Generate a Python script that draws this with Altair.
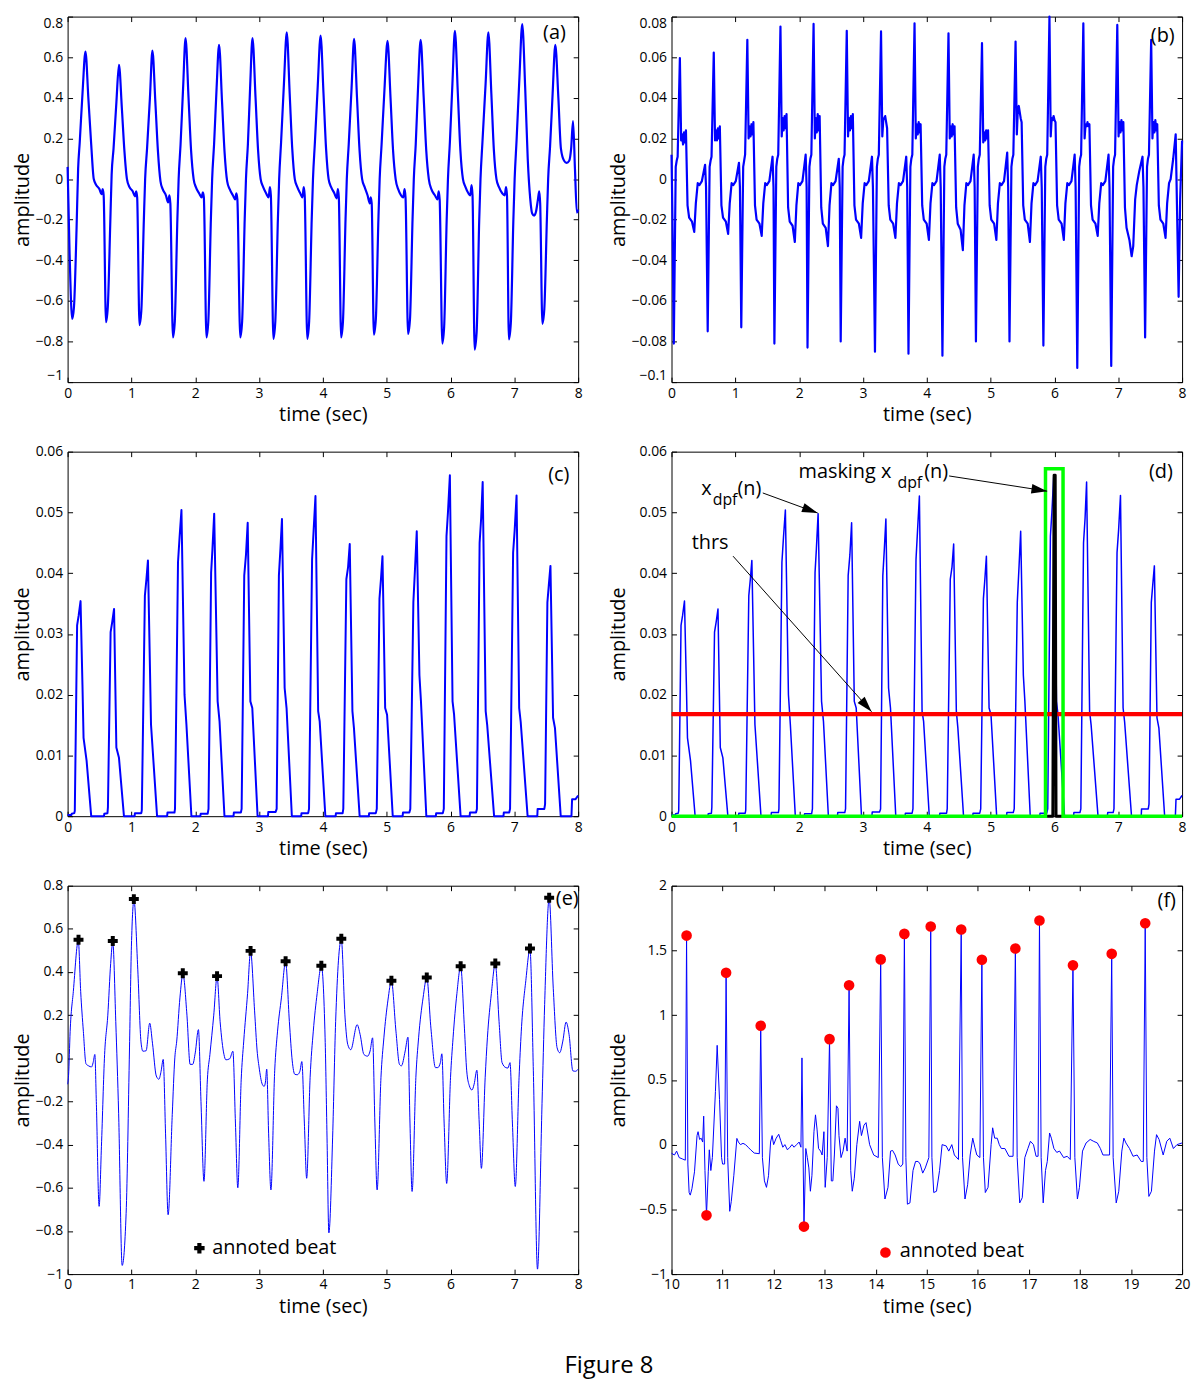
import math
import altair as alt
import pandas as pd

FONT = "Open Sans"
BLUE = "#0000ff"

# ---------------- data ----------------
A_PTS = [
    (0.0, 0.06), (0.03, -0.35), (0.072, -0.689), (0.10, -0.63), (0.14, -0.25), (0.165, 0.05), (0.19, 0.18), (0.235, 0.43), (0.28, 0.628), (0.325, 0.40), (0.37, 0.17), (0.41, 0.0), (0.45, -0.03), (0.50, -0.05), (0.53, -0.075), (0.55, -0.05), (0.565, -0.08),
    (0.602, -0.705), (0.63, -0.63), (0.67, -0.2), (0.69, 0.02), (0.72, 0.15), (0.765, 0.38), (0.805, 0.563), (0.85, 0.35), (0.89, 0.14), (0.93, 0.0), (0.97, -0.04), (1.02, -0.06), (1.055, -0.085), (1.075, -0.06), (1.09, -0.09),
    (1.127, -0.72), (1.155, -0.65), (1.195, -0.2), (1.215, 0.0), (1.245, 0.15), (1.29, 0.4), (1.329, 0.632), (1.375, 0.38), (1.415, 0.14), (1.455, -0.01), (1.49, -0.05), (1.54, -0.08), (1.575, -0.115), (1.595, -0.08), (1.61, -0.12),
    (1.651, -0.78), (1.68, -0.7), (1.72, -0.2), (1.74, 0.0), (1.77, 0.17), (1.81, 0.45), (1.848, 0.694), (1.895, 0.4), (1.935, 0.14), (1.975, 0.0), (2.01, -0.04), (2.06, -0.07), (2.10, -0.09), (2.12, -0.065), (2.135, -0.09),
    (2.176, -0.78), (2.205, -0.7), (2.245, -0.2), (2.265, 0.0), (2.295, 0.17), (2.335, 0.45), (2.373, 0.661), (2.42, 0.38), (2.46, 0.13), (2.50, -0.01), (2.54, -0.05), (2.59, -0.08), (2.625, -0.1), (2.645, -0.07), (2.66, -0.1),
    (2.706, -0.78), (2.735, -0.7), (2.775, -0.2), (2.795, 0.0), (2.825, 0.17), (2.86, 0.45), (2.897, 0.694), (2.945, 0.4), (2.985, 0.14), (3.025, 0.0), (3.065, -0.04), (3.11, -0.07), (3.15, -0.09), (3.17, -0.04), (3.185, -0.08),
    (3.225, -0.787), (3.255, -0.7), (3.295, -0.2), (3.315, 0.0), (3.345, 0.18), (3.39, 0.47), (3.434, 0.722), (3.48, 0.42), (3.52, 0.15), (3.56, 0.0), (3.60, -0.04), (3.645, -0.07), (3.68, -0.09), (3.70, -0.04), (3.715, -0.08),
    (3.756, -0.787), (3.785, -0.7), (3.825, -0.2), (3.845, 0.0), (3.875, 0.18), (3.92, 0.46), (3.964, 0.707), (4.01, 0.42), (4.05, 0.15), (4.09, 0.0), (4.13, -0.04), (4.18, -0.07), (4.215, -0.095), (4.235, -0.05), (4.25, -0.09),
    (4.286, -0.78), (4.315, -0.7), (4.355, -0.2), (4.375, 0.0), (4.405, 0.17), (4.45, 0.45), (4.489, 0.69), (4.535, 0.4), (4.575, 0.14), (4.615, 0.0), (4.655, -0.04), (4.70, -0.08), (4.735, -0.12), (4.75, -0.09), (4.765, -0.12),
    (4.799, -0.766), (4.83, -0.69), (4.87, -0.2), (4.89, 0.0), (4.92, 0.17), (4.965, 0.44), (5.013, 0.68), (5.06, 0.4), (5.10, 0.14), (5.14, 0.0), (5.18, -0.05), (5.225, -0.08), (5.26, -0.09), (5.28, -0.05), (5.295, -0.09),
    (5.335, -0.763), (5.365, -0.69), (5.405, -0.2), (5.425, 0.0), (5.455, 0.17), (5.49, 0.44), (5.532, 0.686), (5.58, 0.4), (5.62, 0.14), (5.66, 0.0), (5.70, -0.05), (5.755, -0.08), (5.795, -0.1), (5.815, -0.06), (5.83, -0.1),
    (5.872, -0.81), (5.90, -0.73), (5.94, -0.2), (5.96, 0.0), (5.99, 0.18), (6.03, 0.47), (6.069, 0.73), (6.115, 0.42), (6.155, 0.14), (6.195, 0.0), (6.235, -0.04), (6.28, -0.07), (6.31, -0.08), (6.33, -0.03), (6.345, -0.08),
    (6.378, -0.84), (6.41, -0.75), (6.45, -0.2), (6.47, 0.0), (6.50, 0.18), (6.55, 0.47), (6.593, 0.723), (6.64, 0.42), (6.68, 0.14), (6.72, 0.0), (6.76, -0.04), (6.81, -0.07), (6.85, -0.08), (6.87, -0.04), (6.885, -0.08),
    (6.915, -0.79), (6.945, -0.71), (6.985, -0.2), (7.005, 0.0), (7.035, 0.19), (7.08, 0.5), (7.124, 0.763), (7.17, 0.45), (7.21, 0.1), (7.25, -0.1), (7.28, -0.17), (7.31, -0.18), (7.34, -0.16), (7.37, -0.1), (7.39, -0.06), (7.405, -0.12),
    (7.44, -0.713), (7.47, -0.64), (7.51, -0.2), (7.53, 0.0), (7.56, 0.16), (7.60, 0.42), (7.642, 0.661), (7.69, 0.4), (7.73, 0.15), (7.78, 0.09), (7.82, 0.08), (7.86, 0.09), (7.89, 0.15), (7.92, 0.285), (7.95, 0.05), (7.98, -0.165), (8.0, -0.15),
]

B_PTS = [
    (0.0, 0.012), (0.015, -0.02),
    (0.036, -0.081), (0.066, 0.006), (0.081, 0.009), (0.096, 0.011), (0.131, 0.0596), (0.151, 0.019), (0.166, 0.022), (0.181, 0.017), (0.196, 0.023), (0.211, 0.018), (0.226, 0.024), (0.251, -0.013), (0.276, -0.019), (0.321, -0.021), (0.356, -0.026), (0.381, -0.012), (0.411, -0.002), (0.436, -0.003), (0.476, -0.001), (0.526, 0.007), (0.541, -0.004),
    (0.567, -0.075), (0.597, 0.006), (0.612, 0.009), (0.627, 0.011), (0.662, 0.0623), (0.682, 0.019), (0.697, 0.024), (0.712, 0.019), (0.727, 0.025), (0.742, 0.020), (0.757, 0.026), (0.782, -0.013), (0.807, -0.019), (0.852, -0.021), (0.887, -0.027), (0.912, -0.012), (0.942, -0.002), (0.967, -0.003), (1.007, -0.001), (1.057, 0.008), (1.072, -0.004),
    (1.093, -0.073), (1.123, 0.006), (1.138, 0.009), (1.153, 0.012), (1.188, 0.0686), (1.208, 0.020), (1.223, 0.026), (1.238, 0.021), (1.253, 0.027), (1.268, 0.022), (1.283, 0.028), (1.308, -0.013), (1.333, -0.020), (1.378, -0.022), (1.413, -0.028), (1.438, -0.012), (1.468, -0.002), (1.493, -0.003), (1.533, -0.001), (1.583, 0.011), (1.598, -0.004),
    (1.612, -0.081), (1.642, 0.006), (1.657, 0.010), (1.672, 0.012), (1.707, 0.0751), (1.727, 0.021), (1.742, 0.030), (1.757, 0.024), (1.772, 0.031), (1.787, 0.025), (1.802, 0.032), (1.827, -0.014), (1.852, -0.021), (1.897, -0.023), (1.932, -0.031), (1.957, -0.013), (1.987, -0.002), (2.012, -0.003), (2.052, -0.001), (2.102, 0.012), (2.117, -0.004),
    (2.131, -0.083), (2.161, 0.006), (2.176, 0.010), (2.191, 0.012), (2.226, 0.0764), (2.246, 0.020), (2.261, 0.030), (2.276, 0.023), (2.291, 0.032), (2.306, 0.024), (2.321, 0.031), (2.346, -0.014), (2.371, -0.022), (2.416, -0.024), (2.451, -0.033), (2.476, -0.013), (2.506, -0.002), (2.531, -0.003), (2.571, -0.001), (2.621, 0.010), (2.636, -0.004),
    (2.651, -0.080), (2.681, 0.006), (2.696, 0.010), (2.711, 0.012), (2.746, 0.073), (2.766, 0.021), (2.781, 0.030), (2.796, 0.024), (2.811, 0.031), (2.826, 0.025), (2.841, 0.032), (2.866, -0.013), (2.891, -0.020), (2.936, -0.022), (2.971, -0.029), (2.996, -0.012), (3.026, -0.002), (3.051, -0.003), (3.091, -0.001), (3.141, 0.011), (3.156, -0.004),
    (3.188, -0.085), (3.218, 0.006), (3.233, 0.010), (3.248, 0.012), (3.283, 0.0727), (3.303, 0.021), (3.318, 0.029), (3.333, 0.030), (3.348, 0.031), (3.363, 0.028), (3.378, 0.025), (3.403, -0.013), (3.428, -0.020), (3.473, -0.022), (3.508, -0.029), (3.533, -0.012), (3.563, -0.002), (3.588, -0.003), (3.628, -0.001), (3.678, 0.011), (3.693, -0.004),
    (3.713, -0.086), (3.743, 0.006), (3.758, 0.010), (3.773, 0.012), (3.808, 0.0767), (3.828, 0.020), (3.843, 0.027), (3.858, 0.022), (3.873, 0.028), (3.888, 0.023), (3.903, 0.027), (3.928, -0.013), (3.953, -0.020), (3.998, -0.022), (4.033, -0.030), (4.058, -0.012), (4.088, -0.002), (4.113, -0.003), (4.153, -0.001), (4.203, 0.012), (4.218, -0.004),
    (4.245, -0.087), (4.275, 0.006), (4.29, 0.010), (4.305, 0.012), (4.34, 0.0718), (4.36, 0.020), (4.375, 0.026), (4.39, 0.021), (4.405, 0.027), (4.42, 0.022), (4.435, 0.026), (4.46, -0.014), (4.485, -0.022), (4.53, -0.025), (4.565, -0.035), (4.59, -0.013), (4.62, -0.002), (4.645, -0.003), (4.685, -0.001), (4.735, 0.012), (4.75, -0.004),
    (4.77, -0.080), (4.80, 0.006), (4.815, 0.010), (4.83, 0.012), (4.865, 0.0669), (4.885, 0.018), (4.90, 0.023), (4.915, 0.019), (4.93, 0.024), (4.945, 0.020), (4.96, 0.024), (4.985, -0.013), (5.01, -0.020), (5.055, -0.022), (5.09, -0.030), (5.115, -0.012), (5.145, -0.002), (5.17, -0.003), (5.21, -0.001), (5.26, 0.013), (5.275, -0.004),
    (5.296, -0.080), (5.326, 0.006), (5.341, 0.010), (5.356, 0.012), (5.391, 0.0677), (5.411, 0.022), (5.426, 0.034), (5.441, 0.036), (5.456, 0.033), (5.471, 0.030), (5.486, 0.028), (5.511, -0.013), (5.536, -0.020), (5.581, -0.022), (5.616, -0.031), (5.641, -0.012), (5.671, -0.002), (5.696, -0.003), (5.736, -0.001), (5.786, 0.011), (5.801, -0.004),
    (5.827, -0.082), (5.857, 0.006), (5.872, 0.010), (5.887, 0.012), (5.922, 0.080), (5.942, 0.021), (5.957, 0.030), (5.972, 0.029), (5.987, 0.031), (6.002, 0.029), (6.017, 0.028), (6.042, -0.013), (6.067, -0.020), (6.112, -0.022), (6.147, -0.030), (6.172, -0.012), (6.202, -0.002), (6.227, -0.003), (6.267, -0.001), (6.317, 0.012), (6.332, -0.004),
    (6.358, -0.093), (6.388, 0.006), (6.403, 0.010), (6.418, 0.012), (6.453, 0.0767), (6.473, 0.020), (6.488, 0.027), (6.503, 0.026), (6.518, 0.028), (6.533, 0.026), (6.548, 0.027), (6.573, -0.013), (6.598, -0.020), (6.643, -0.022), (6.678, -0.028), (6.703, -0.012), (6.733, -0.002), (6.758, -0.003), (6.798, -0.001), (6.848, 0.012), (6.863, -0.004),
    (6.89, -0.092), (6.92, 0.006), (6.935, 0.010), (6.95, 0.012), (6.985, 0.0759), (7.005, 0.021), (7.02, 0.028), (7.035, 0.023), (7.05, 0.029), (7.065, 0.024), (7.08, 0.028), (7.105, -0.014), (7.13, -0.024), (7.175, -0.030), (7.21, -0.038), (7.235, -0.033), (7.265, -0.010), (7.29, -0.003), (7.33, 0.004), (7.38, 0.011), (7.395, -0.004),
    (7.421, -0.078), (7.451, 0.006), (7.466, 0.010), (7.481, 0.012), (7.516, 0.0686), (7.536, 0.020), (7.551, 0.028), (7.566, 0.023), (7.581, 0.029), (7.596, 0.024), (7.611, 0.027), (7.636, -0.013), (7.661, -0.020), (7.706, -0.022), (7.741, -0.029), (7.766, -0.012), (7.796, -0.002), (7.821, 0.000), (7.861, 0.010), (7.90, 0.022),
    (7.946, -0.058), (7.97, -0.010), (8.0, 0.019),
]

C_PTS = [
    (0.0, 0.0002), (0.06, 0.0002), (0.065, 0.0004), (0.105, 0.0005), (0.113, 0.0009), (0.149, 0.0314), (0.173, 0.033), (0.203, 0.0354), (0.233, 0.0216), (0.25, 0.0129), (0.298, 0.0091), (0.37, 0.0),
    (0.57, 0.0), (0.575, 0.0004), (0.625, 0.0005), (0.632, 0.0015), (0.674, 0.0303), (0.70, 0.032), (0.728, 0.0341), (0.764, 0.0113), (0.805, 0.0096), (0.883, 0.0),
    (1.05, 0.0), (1.055, 0.0005), (1.155, 0.0005), (1.163, 0.001), (1.211, 0.0363), (1.235, 0.039), (1.259, 0.0421), (1.307, 0.0151), (1.402, 0.0),
    (1.56, 0.0), (1.565, 0.0006), (1.675, 0.0006), (1.683, 0.0012), (1.73, 0.0418), (1.755, 0.046), (1.784, 0.0504), (1.832, 0.02), (1.862, 0.0151), (1.94, 0.0),
    (2.08, 0.0), (2.085, 0.0004), (2.195, 0.0004), (2.208, 0.0012), (2.249, 0.0401), (2.27, 0.044), (2.297, 0.0498), (2.351, 0.0189), (2.381, 0.0156), (2.458, 0.0),
    (2.6, 0.0), (2.605, 0.0006), (2.715, 0.0006), (2.727, 0.0012), (2.768, 0.0396), (2.795, 0.043), (2.822, 0.0483), (2.864, 0.0189), (2.894, 0.0178), (2.977, 0.0),
    (3.14, 0.0), (3.145, 0.0007), (3.26, 0.0007), (3.276, 0.0012), (3.311, 0.0396), (3.335, 0.044), (3.359, 0.0489), (3.401, 0.0211), (3.431, 0.0178), (3.514, 0.0),
    (3.66, 0.0), (3.665, 0.0005), (3.77, 0.0005), (3.783, 0.0012), (3.831, 0.0423), (3.855, 0.047), (3.884, 0.0527), (3.926, 0.0173), (3.95, 0.0156), (4.039, 0.0),
    (4.2, 0.0), (4.205, 0.0005), (4.31, 0.0005), (4.32, 0.0012), (4.368, 0.039), (4.395, 0.041), (4.421, 0.0448), (4.463, 0.0173), (4.487, 0.0145), (4.576, 0.0),
    (4.72, 0.0), (4.725, 0.0005), (4.83, 0.0005), (4.845, 0.0012), (4.887, 0.0358), (4.91, 0.039), (4.934, 0.0428), (4.976, 0.0178), (5.006, 0.0167), (5.095, 0.0),
    (5.25, 0.0), (5.255, 0.0006), (5.355, 0.0006), (5.37, 0.0012), (5.418, 0.0352), (5.445, 0.041), (5.471, 0.0469), (5.513, 0.0232), (5.537, 0.0189), (5.621, 0.0),
    (5.77, 0.0), (5.775, 0.0005), (5.88, 0.0005), (5.895, 0.0012), (5.937, 0.0461), (5.96, 0.05), (5.99, 0.0561), (6.032, 0.0189), (6.056, 0.0167), (6.158, 0.0),
    (6.3, 0.0), (6.305, 0.0006), (6.40, 0.0006), (6.414, 0.0012), (6.456, 0.045), (6.48, 0.049), (6.504, 0.055), (6.551, 0.0173), (6.575, 0.0150), (6.683, 0.0),
    (6.83, 0.0), (6.835, 0.0006), (6.92, 0.0006), (6.933, 0.0012), (6.981, 0.0434), (7.005, 0.047), (7.035, 0.0528), (7.076, 0.0178), (7.10, 0.0155), (7.208, 0.0),
    (7.36, 0.0), (7.365, 0.0012), (7.47, 0.0012), (7.482, 0.002), (7.518, 0.0352), (7.54, 0.038), (7.566, 0.0412), (7.607, 0.0162), (7.637, 0.0145), (7.727, 0.0),
    (7.895, 0.0), (7.905, 0.0028), (7.96, 0.0028), (8.0, 0.0034),
]

D_THRS_PTS = [(0.0, 0.0168), (8.0, 0.0168)]
D_MASK_PTS = [(0.0, 0.0), (5.86, 0.0), (5.86, 0.0572), (6.135, 0.0572), (6.135, 0.0), (8.0, 0.0)]
D_MASKED_PTS = [(5.86, 0.0), (5.975, 0.0), (5.995, 0.0561), (6.012, 0.0561), (6.025, 0.0), (6.135, 0.0)]
D_ARROW_T0 = [1.43, 4.35, 0.964]
D_ARROW_V0 = [0.0532, 0.0560, 0.0428]
D_ARROW_T1 = [2.29, 5.886, 3.135]
D_ARROW_V1 = [0.0499, 0.0535, 0.0172]
D_TEXT = [
    (0.466, 0.0528, "x", 20), (0.645, 0.0512, "dpf", 16), (1.033, 0.0528, "(n)", 20),
    (1.99, 0.0556, "masking x", 20), (3.54, 0.0540, "dpf", 16), (3.96, 0.0556, "(n)", 20),
    (0.316, 0.0439, "thrs", 20), (7.48, 0.0556, "(d)", 20),
]

E_PTS = [
    (0.0, -0.12), (0.015, -0.08), (0.04, 0.125), (0.09, 0.31), (0.168, 0.545), (0.205, 0.31), (0.247, 0.125), (0.288, -0.025), (0.33, -0.035), (0.375, -0.04), (0.40, -0.02), (0.427, 0.018), (0.45, -0.2), (0.494, -0.686), (0.53, -0.41), (0.58, 0.018), (0.63, 0.2), (0.675, 0.44), (0.708, 0.54),
    (0.755, 0.17), (0.80, -0.257), (0.855, -0.96), (0.917, -0.72), (0.97, 0.048), (1.0, 0.52), (1.04, 0.733), (1.10, 0.41), (1.15, 0.076), (1.18, 0.033), (1.23, 0.035), (1.287, 0.163), (1.33, 0.07), (1.39, -0.082), (1.43, -0.097), (1.465, -0.06), (1.498, -0.005),
    (1.535, -0.35), (1.575, -0.725), (1.64, -0.26), (1.68, 0.002), (1.71, 0.08), (1.76, 0.28), (1.807, 0.39), (1.87, 0.2), (1.92, -0.028), (1.96, -0.028), (2.0, 0.025), (2.05, 0.133), (2.09, -0.2), (2.137, -0.57), (2.19, -0.1), (2.23, 0.018), (2.29, 0.2), (2.342, 0.378),
    (2.39, 0.17), (2.45, 0.018), (2.48, -0.007), (2.54, -0.002), (2.59, 0.033), (2.63, -0.3), (2.667, -0.6), (2.72, -0.1), (2.76, 0.08), (2.82, 0.3), (2.867, 0.495), (2.93, 0.22), (2.97, 0.034), (3.0, -0.04), (3.05, -0.12), (3.08, -0.13), (3.10, -0.11), (3.12, -0.05),
    (3.15, -0.35), (3.186, -0.61), (3.245, -0.058), (3.29, 0.126), (3.35, 0.28), (3.416, 0.447), (3.475, 0.17), (3.52, -0.012), (3.56, -0.074), (3.60, -0.076), (3.64, -0.06), (3.67, -0.015), (3.71, -0.3), (3.746, -0.556), (3.80, -0.09), (3.85, 0.126), (3.91, 0.3), (3.976, 0.427),
    (4.035, 0.095), (4.065, -0.365), (4.094, -0.809), (4.153, -0.365), (4.20, 0.17), (4.289, 0.55), (4.348, 0.187), (4.39, 0.064), (4.437, 0.04), (4.537, 0.156), (4.584, 0.11), (4.643, 0.018), (4.70, 0.01), (4.74, 0.034), (4.779, 0.095), (4.815, -0.3), (4.85, -0.61),
    (4.91, -0.09), (4.956, 0.095), (5.02, 0.27), (5.074, 0.358), (5.145, 0.126), (5.20, -0.028), (5.23, -0.035), (5.29, 0.034), (5.333, 0.098), (5.365, -0.3), (5.398, -0.617), (5.457, -0.09), (5.50, 0.095), (5.57, 0.28), (5.628, 0.373),
    (5.693, 0.14), (5.764, -0.043), (5.80, -0.043), (5.841, -0.02), (5.864, 0.021), (5.90, -0.3), (5.94, -0.58), (6.0, -0.09), (6.04, 0.095), (6.10, 0.3), (6.159, 0.425), (6.218, 0.14), (6.254, -0.058), (6.295, -0.127), (6.336, -0.147), (6.37, -0.12), (6.413, -0.055),
    (6.45, -0.3), (6.484, -0.51), (6.543, -0.09), (6.578, 0.095), (6.64, 0.3), (6.702, 0.438), (6.761, 0.17), (6.808, -0.02), (6.867, -0.043), (6.90, -0.045), (6.932, -0.02), (6.97, -0.3), (7.015, -0.594), (7.074, -0.09), (7.109, 0.126), (7.18, 0.36), (7.245, 0.505),
    (7.298, -0.058), (7.363, -0.977), (7.434, -0.21), (7.475, 0.25), (7.546, 0.74), (7.61, 0.325), (7.67, 0.049), (7.711, 0.026), (7.76, 0.08), (7.811, 0.168), (7.858, 0.11), (7.917, -0.058), (7.96, -0.06), (8.0, -0.05),
]
E_BEAT_T = [0.171, 0.708, 1.038, 1.805, 2.342, 2.867, 3.416, 3.976, 4.289, 5.074, 5.628, 6.159, 6.702, 7.245, 7.546]
E_BEAT_V = [0.55, 0.544, 0.738, 0.394, 0.381, 0.498, 0.45, 0.429, 0.554, 0.36, 0.375, 0.427, 0.44, 0.509, 0.744]

F_PTS = [
    (10.0, -0.067), (10.058, -0.08), (10.1, -0.05), (10.15, -0.1), (10.21, -0.11), (10.27, -0.12), (10.295, 1.615), (10.32, -0.15), (10.345, -0.37), (10.367, -0.39), (10.40, -0.34), (10.45, -0.21), (10.50, 0.07), (10.52, 0.1), (10.55, 0.04), (10.58, 0.05), (10.61, 0.02),
    (10.63, 0.22), (10.655, -0.2), (10.685, -0.546), (10.72, -0.21), (10.74, -0.04), (10.77, -0.2), (10.80, -0.1), (10.86, 0.41), (10.894, 0.767), (10.94, 0.35), (10.98, -0.1), (11.0, -0.15), (11.04, -0.15), (11.069, 1.328), (11.10, -0.1), (11.14, -0.515),
    (11.17, -0.44), (11.22, -0.24), (11.28, 0.048), (11.31, 0.02), (11.35, 0.0), (11.40, 0.01), (11.45, 0.0), (11.50, -0.02), (11.55, -0.04), (11.62, -0.065), (11.72, -0.07), (11.747, 0.918), (11.78, -0.1), (11.82, -0.28), (11.86, -0.33), (11.90, -0.24),
    (11.94, 0.02), (11.97, 0.07), (12.0, 0.0), (12.05, 0.05), (12.1, 0.08), (12.14, 0.03), (12.18, -0.02), (12.22, 0.0), (12.27, -0.04), (12.32, -0.02), (12.36, 0.0), (12.40, -0.02), (12.45, 0.0), (12.50, 0.02), (12.535, -0.02), (12.555, 0.67), (12.594, -0.633),
    (12.63, -0.03), (12.66, -0.1), (12.69, -0.18), (12.72, -0.36), (12.75, -0.24), (12.79, 0.1), (12.82, 0.23), (12.85, 0.12), (12.88, -0.03), (12.92, -0.05), (12.95, -0.08), (12.985, 0.1), (13.01, -0.33), (13.05, -0.1), (13.095, 0.815), (13.13, -0.28),
    (13.16, -0.28), (13.19, -0.08), (13.23, 0.3), (13.26, 0.28), (13.28, 0.07), (13.32, -0.1), (13.36, -0.05), (13.40, 0.05), (13.44, -0.05), (13.478, 1.231), (13.51, -0.2), (13.54, -0.36), (13.58, -0.26), (13.63, 0.0), (13.685, 0.18), (13.72, 0.07),
    (13.77, 0.15), (13.81, 0.17), (13.88, 0.0), (13.96, -0.08), (14.05, -0.1), (14.097, 1.431), (14.13, -0.1), (14.18, -0.42), (14.24, -0.33), (14.29, -0.05), (14.33, -0.045), (14.38, -0.08), (14.44, -0.15), (14.49, -0.17), (14.53, -0.15), (14.561, 1.628),
    (14.59, -0.1), (14.62, -0.46), (14.67, -0.45), (14.73, -0.2), (14.78, -0.13), (14.83, -0.13), (14.87, -0.15), (14.92, -0.22), (14.97, -0.18), (15.04, -0.1), (15.077, 1.685), (15.10, -0.1), (15.136, -0.37), (15.19, -0.36), (15.25, -0.2), (15.30, 0.0),
    (15.38, -0.01), (15.43, -0.05), (15.49, 0.0), (15.54, -0.08), (15.62, -0.115), (15.674, 1.662), (15.70, -0.1), (15.748, -0.42), (15.80, -0.31), (15.85, -0.08), (15.90, 0.05), (15.94, -0.02), (15.98, -0.08), (16.04, -0.1), (16.079, 1.428), (16.11, -0.1),
    (16.146, -0.37), (16.2, -0.33), (16.26, 0.0), (16.29, 0.13), (16.33, 0.05), (16.38, 0.05), (16.42, 0.0), (16.46, -0.03), (16.53, -0.03), (16.61, -0.09), (16.69, -0.09), (16.735, 1.515), (16.77, -0.1), (16.82, -0.45), (16.87, -0.41), (16.92, -0.1),
    (16.98, -0.03), (17.03, 0.026), (17.09, 0.0), (17.14, -0.09), (17.18, -0.09), (17.207, 1.731), (17.24, -0.1), (17.28, -0.45), (17.325, -0.2), (17.36, -0.13), (17.405, 0.09), (17.44, 0.05), (17.49, -0.03), (17.546, -0.06), (17.6, -0.05), (17.68, -0.1),
    (17.75, -0.09), (17.81, -0.115), (17.863, 1.385), (17.90, -0.1), (17.95, -0.42), (17.99, -0.33), (18.05, -0.05), (18.12, 0.013), (18.2, 0.04), (18.27, 0.025), (18.34, 0.013), (18.4, -0.03), (18.45, -0.08), (18.53, -0.08), (18.58, -0.08), (18.622, 1.474),
    (18.65, -0.1), (18.71, -0.45), (18.76, -0.36), (18.82, -0.05), (18.86, 0.05), (18.90, 0.013), (18.97, -0.03), (19.04, -0.09), (19.12, -0.08), (19.2, -0.13), (19.24, -0.13), (19.278, 1.71), (19.31, -0.1), (19.35, -0.4), (19.40, -0.36), (19.46, -0.05),
    (19.50, 0.077), (19.55, 0.04), (19.63, -0.08), (19.70, 0.026), (19.76, 0.05), (19.83, -0.03), (19.9, 0.0), (20.0, 0.013),
]
F_BEAT_T = [10.295, 10.685, 11.069, 11.747, 12.594, 13.095, 13.478, 14.097, 14.561, 15.077, 15.674, 16.079, 16.735, 17.207, 17.863, 18.622, 19.278]
F_BEAT_V = [1.615, -0.546, 1.328, 0.918, -0.633, 0.815, 1.231, 1.431, 1.628, 1.685, 1.662, 1.428, 1.515, 1.731, 1.385, 1.474, 1.71]

X_TICKS_8 = [0, 1, 2, 3, 4, 5, 6, 7, 8]
X_TICKS_F = [10, 11, 12, 13, 14, 15, 16, 17, 18, 19, 20]
Y_TICKS_A = [-1, -0.8, -0.6, -0.4, -0.2, 0, 0.2, 0.4, 0.6, 0.8]
Y_TICKS_B = [-0.1, -0.08, -0.06, -0.04, -0.02, 0, 0.02, 0.04, 0.06, 0.08]
Y_TICKS_C = [0, 0.01, 0.02, 0.03, 0.04, 0.05, 0.06]
Y_TICKS_F = [-1, -0.5, 0, 0.5, 1, 1.5, 2]

# ---------------- layout ----------------
W = 514
H_TOP = 368
H_MID = 367
H_BOT = 391
ARROW_PATH = "M0,0 L-1,-0.3 L-1,0.3 Z"


def line_df(pts):
    return pd.DataFrame({"t": [p[0] for p in pts], "v": [p[1] for p in pts], "i": list(range(len(pts)))})


def text_layer(X, Y, rows, size=20, align="left", baseline="middle"):
    d = pd.DataFrame(rows, columns=["t", "v", "s"])
    return alt.Chart(d).mark_text(font=FONT, fontSize=size, align=align, baseline=baseline, color="black").encode(
        x=X(), y=Y(), text="s:N")


def build_panel(xdom, ydom, xticks, yticks, height, title_x, flush, builder):
    xs = alt.Scale(domain=xdom, nice=False, zero=False)
    ys = alt.Scale(domain=ydom, nice=False, zero=False)

    def X(axis=None):
        return alt.X("t:Q", scale=xs, axis=axis)

    def Y(axis=None):
        return alt.Y("v:Q", scale=ys, axis=axis)

    xaxis = alt.Axis(orient="bottom", values=xticks, format="~g", title="time (sec)", offset=-5, tickSize=5,
                     domain=False, grid=False, labelFlush=False, labelOverlap=False, labelPadding=4, minExtent=0,
                     titleX=W / 2, titleY=28, titleAlign="center", titleBaseline="top", titleAngle=0)
    yaxis = alt.Axis(orient="left", values=yticks, format="~g", title="amplitude", offset=-5, tickSize=5,
                     domain=False, grid=False, labelFlush=flush, labelOverlap=False, labelPadding=5, minExtent=0,
                     titleX=title_x, titleY=height / 2, titleAlign="center", titleBaseline="bottom", titleAngle=270)
    layers = builder(X, Y, xaxis, yaxis)
    corner = pd.DataFrame({"t": list(xdom), "v": list(ydom)})
    frame = alt.Chart(corner).mark_point(opacity=0).encode(
        x=X(alt.Axis(orient="top", values=xticks, labels=False, title=None, offset=-5, tickSize=5,
                     domain=False, grid=False, minExtent=0)),
        y=Y(alt.Axis(orient="right", values=yticks, labels=False, title=None, offset=-5, tickSize=5,
                     domain=False, grid=False, minExtent=0)),
    )
    return alt.layer(*layers, frame).resolve_axis(x="independent", y="independent").properties(width=W, height=height)


def blue_line(pts, X, Y, xa, ya, width, interp):
    return alt.Chart(line_df(pts)).mark_line(color=BLUE, strokeWidth=width, interpolate=interp, strokeJoin="round").encode(
        x=X(xa), y=Y(ya), order="i:Q")


def build_a(X, Y, xa, ya):
    return [blue_line(A_PTS, X, Y, xa, ya, 2.2, "monotone"), text_layer(X, Y, [(7.45, 0.718, "(a)")])]


def build_b(X, Y, xa, ya):
    return [blue_line(B_PTS, X, Y, xa, ya, 2.2, "linear"), text_layer(X, Y, [(7.51, 0.0702, "(b)")])]


def build_c(X, Y, xa, ya):
    return [blue_line(C_PTS, X, Y, xa, ya, 2, "linear"), text_layer(X, Y, [(7.53, 0.0562, "(c)")])]


def build_d(X, Y, xa, ya):
    blue = blue_line(C_PTS, X, Y, xa, ya, 1.5, "linear")
    red = alt.Chart(line_df(D_THRS_PTS)).mark_line(color="#ff0000", strokeWidth=4.5).encode(x=X(), y=Y(), order="i:Q")
    black = alt.Chart(line_df(D_MASKED_PTS)).mark_line(color="black", strokeWidth=3, strokeJoin="round").encode(
        x=X(), y=Y(), order="i:Q")
    green = alt.Chart(line_df(D_MASK_PTS)).mark_line(color="#00ff00", strokeWidth=3.5).encode(x=X(), y=Y(), order="i:Q")
    px_t = W / 8.0
    px_v = H_MID / 0.06
    ang = [math.degrees(math.atan2((v0 - v1) * px_v, (t1 - t0) * px_t))
           for t0, v0, t1, v1 in zip(D_ARROW_T0, D_ARROW_V0, D_ARROW_T1, D_ARROW_V1)]
    arr = pd.DataFrame({"t": D_ARROW_T0, "v": D_ARROW_V0, "t2": D_ARROW_T1, "v2": D_ARROW_V1, "a": ang})
    shafts = alt.Chart(arr).mark_rule(color="black", strokeWidth=1).encode(x=X(), y=Y(), x2="t2:Q", y2="v2:Q")
    heads = alt.Chart(arr).mark_point(shape=ARROW_PATH, filled=True, size=1000, color="black", opacity=1,
                                      strokeWidth=0).encode(
        x=alt.X("t2:Q", scale=alt.Scale(domain=[0, 8], nice=False, zero=False), axis=None),
        y=alt.Y("v2:Q", scale=alt.Scale(domain=[0, 0.06], nice=False, zero=False), axis=None),
        angle=alt.Angle("a:Q", scale=None))
    td = pd.DataFrame(D_TEXT, columns=["t", "v", "s", "fs"])
    texts = alt.Chart(td).mark_text(font=FONT, align="left", baseline="alphabetic", color="black").encode(
        x=X(), y=Y(), text="s:N", size=alt.Size("fs:Q", scale=None))
    return [blue, red, black, green, shafts, heads, texts]


def build_e(X, Y, xa, ya):
    line = blue_line(E_PTS, X, Y, xa, ya, 1, "monotone")
    beats = alt.Chart(pd.DataFrame({"t": E_BEAT_T, "v": E_BEAT_V})).mark_point(
        shape="cross", filled=True, size=100, color="black", opacity=1).encode(x=X(), y=Y())
    leg = alt.Chart(pd.DataFrame({"t": [2.065], "v": [-0.88]})).mark_point(
        shape="cross", filled=True, size=110, color="black", opacity=1).encode(x=X(), y=Y())
    txt = text_layer(X, Y, [(2.265, -0.88, "annoted beat"), (7.65, 0.738, "(e)")])
    caption = alt.Chart(pd.DataFrame({"s": ["Figure 8"]})).mark_text(
        font=FONT, fontSize=24, align="center", baseline="middle", color="black").encode(
        x=alt.value(545), y=alt.value(484), text="s:N")
    return [line, beats, leg, txt, caption]


def build_f(X, Y, xa, ya):
    line = blue_line(F_PTS, X, Y, xa, ya, 1, "linear")
    beats = alt.Chart(pd.DataFrame({"t": F_BEAT_T, "v": F_BEAT_V})).mark_circle(
        color="#ff0000", size=115, opacity=1).encode(x=X(), y=Y())
    leg = alt.Chart(pd.DataFrame({"t": [14.19], "v": [-0.833]})).mark_circle(
        color="#ff0000", size=115, opacity=1).encode(x=X(), y=Y())
    txt = text_layer(X, Y, [(14.47, -0.825, "annoted beat"), (19.52, 1.885, "(f)")])
    return [line, beats, leg, txt]


pa = build_panel([0, 8], [-1, 0.8], X_TICKS_8, Y_TICKS_A, H_TOP, -40, True, build_a)
pb = build_panel([0, 8], [-0.1, 0.08], X_TICKS_8, Y_TICKS_B, H_TOP, -48, True, build_b)
pc = build_panel([0, 8], [0, 0.06], X_TICKS_8, Y_TICKS_C, H_MID, -40, False, build_c)
pd_ = build_panel([0, 8], [0, 0.06], X_TICKS_8, Y_TICKS_C, H_MID, -48, False, build_d)
pe = build_panel([0, 8], [-1, 0.8], X_TICKS_8, Y_TICKS_A, H_BOT, -40, False, build_e)
pf = build_panel([10, 20], [-1, 2], X_TICKS_F, Y_TICKS_F, H_BOT, -48, False, build_f)

chart = alt.concat(pa, pb, pc, pd_, pe, pf, columns=2, spacing={"row": 70, "column": 94},
                   bounds="flush", align="each").properties(
    padding={"left": 4, "top": 0, "right": 0, "bottom": 0}).configure_view(
    stroke="black", strokeWidth=1).configure_axis(
    labelFont=FONT, titleFont=FONT, labelFontSize=14, titleFontSize=20, titleFontWeight="normal",
    labelColor="black", titleColor="black", tickColor="black", tickWidth=1)

chart.save("out.html", embed_options={"renderer": "svg", "actions": False})
